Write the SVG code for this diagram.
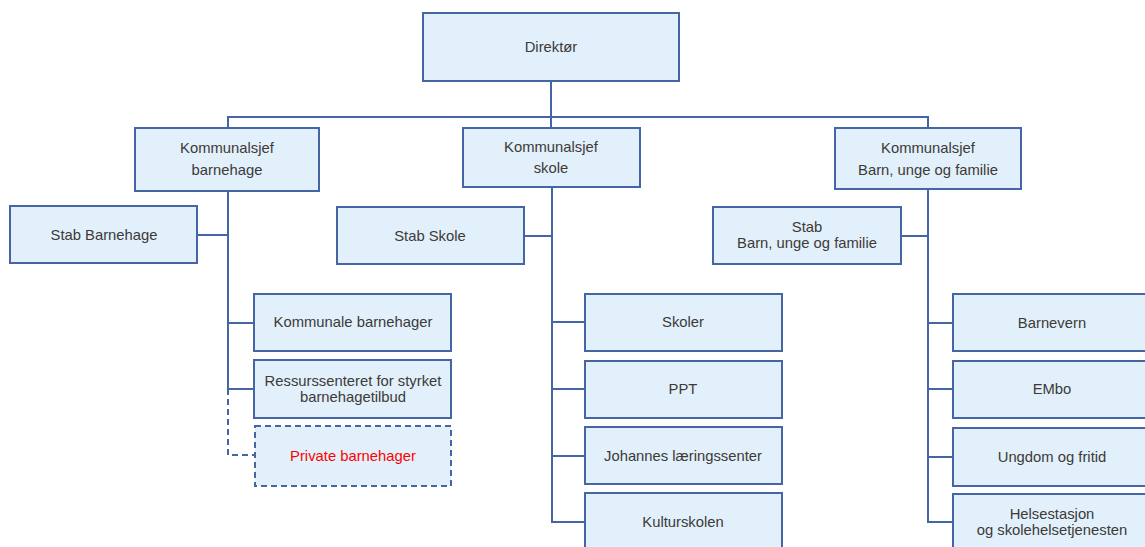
<svg xmlns="http://www.w3.org/2000/svg" width="1145" height="547" viewBox="0 0 1145 547">
<style>
.box{fill:#e1f0fa;stroke:#4565a5;stroke-width:2}
.dash{fill:#e1f0fa;stroke:#4565a5;stroke-width:2;stroke-dasharray:6 4}
.t{font-family:"Liberation Sans",Arial,sans-serif;font-size:14.8px;fill:#3d3a38;text-anchor:middle}
.red{fill:#ff0000}
.c{fill:none;stroke:#4565a5;stroke-width:2}
.cd{fill:none;stroke:#4565a5;stroke-width:2;stroke-dasharray:6 4}
</style>
<rect width="1145" height="547" fill="#ffffff"/>
<g id="connectors">
<path class="c" d="M551 81 V117 M228 128 V117 H928 V128 M551 117 V128"/>
<path class="c" d="M228 191 V389 H254 M197 235 H228 M228 323 H254"/>
<path class="cd" d="M228 389 V455 H254"/>
<path class="c" d="M552 187 V522 H585 M524 236 H552 M552 322 H585 M552 389 H585 M552 456 H585"/>
<path class="c" d="M928 189 V522 H953 M901 236 H928 M928 323 H953 M928 389 H953 M928 457 H953"/>
</g>
<g id="direktor"><rect class="box" x="423" y="13" width="256" height="68"/><text class="t" x="551" y="52">Direktør</text></g>
<g id="ks-barnehage"><rect class="box" x="135" y="128" width="184" height="63"/><text class="t" x="227" y="153">Kommunalsjef</text><text class="t" x="227" y="175">barnehage</text></g>
<g id="ks-skole"><rect class="box" x="463" y="128" width="177" height="59"/><text class="t" x="551" y="152">Kommunalsjef</text><text class="t" x="551" y="173">skole</text></g>
<g id="ks-buf"><rect class="box" x="835" y="128" width="186" height="61"/><text class="t" x="928" y="153">Kommunalsjef</text><text class="t" x="928" y="175">Barn, unge og familie</text></g>
<g id="stab-barnehage"><rect class="box" x="10" y="206" width="187" height="57"/><text class="t" x="104" y="240">Stab Barnehage</text></g>
<g id="stab-skole"><rect class="box" x="337" y="207" width="187" height="57"/><text class="t" x="430" y="241">Stab Skole</text></g>
<g id="stab-buf"><rect class="box" x="713" y="207" width="188" height="57"/><text class="t" x="807" y="232">Stab</text><text class="t" x="807" y="248">Barn, unge og familie</text></g>
<g id="kommunale-barnehager"><rect class="box" x="254" y="294" width="197" height="57"/><text class="t" x="353" y="327">Kommunale barnehager</text></g>
<g id="ressurssenteret"><rect class="box" x="254" y="360" width="197" height="58"/><text class="t" x="353" y="386">Ressurssenteret for styrket</text><text class="t" x="353" y="402">barnehagetilbud</text></g>
<g id="private-barnehager"><rect class="dash" x="255" y="426" width="196" height="60"/><text class="t red" x="353" y="461">Private barnehager</text></g>
<g id="skoler"><rect class="box" x="585" y="294" width="197" height="57"/><text class="t" x="683" y="327">Skoler</text></g>
<g id="ppt"><rect class="box" x="585" y="361" width="197" height="57"/><text class="t" x="683" y="394">PPT</text></g>
<g id="johannes"><rect class="box" x="585" y="427" width="197" height="57"/><text class="t" x="683" y="461">Johannes læringssenter</text></g>
<g id="kulturskolen"><rect class="box" x="585" y="493" width="197" height="60"/><text class="t" x="683" y="527">Kulturskolen</text></g>
<g id="barnevern"><rect class="box" x="953" y="294" width="197" height="57"/><text class="t" x="1052" y="328">Barnevern</text></g>
<g id="embo"><rect class="box" x="953" y="361" width="197" height="57"/><text class="t" x="1052" y="394">EMbo</text></g>
<g id="ungdom"><rect class="box" x="953" y="428" width="197" height="58"/><text class="t" x="1052" y="462">Ungdom og fritid</text></g>
<g id="helsestasjon"><rect class="box" x="953" y="494" width="197" height="60"/><text class="t" x="1052" y="519">Helsestasjon</text><text class="t" x="1052" y="535">og skolehelsetjenesten</text></g>
</svg>
